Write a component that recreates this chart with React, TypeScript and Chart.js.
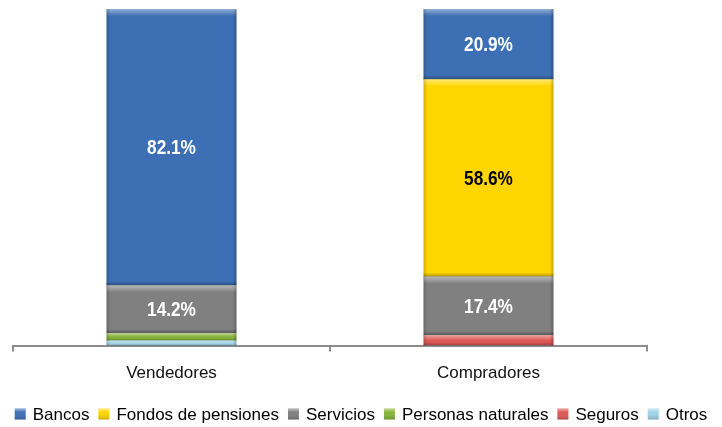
import React, { useEffect, useRef } from "react";
import { Chart, registerables } from "chart.js";

Chart.register(...registerables);

const categories = ["Vendedores", "Compradores"];
const bancos = [82.1, 20.9];
const fondos = [0, 58.6];
const servicios = [14.2, 17.4];
const personas = [2.2, 0];
const seguros = [0, 3.1];
const otros = [1.5, 0];

const FONT = "'Liberation Sans', Arial, sans-serif";

const bevelPlugin = {
  id: "bevel",
  afterDatasetsDraw(chart: any) {
    const ctx = chart.ctx;
    chart.data.datasets.forEach((ds: any, i: number) => {
      const meta = chart.getDatasetMeta(i);
      meta.data.forEach((bar: any, j: number) => {
        const v = ds.data[j];
        if (!v) return;
        const { x, y, base, width } = bar.getProps(["x", "y", "base", "width"], true);
        const left = x - width / 2;
        const top = Math.min(y, base);
        const h = Math.abs(base - y);
        ctx.save();
        const band = Math.min(7, h / 2);
        let g = ctx.createLinearGradient(0, top, 0, top + band);
        g.addColorStop(0, "rgba(255,255,255,0.45)");
        g.addColorStop(1, "rgba(255,255,255,0)");
        ctx.fillStyle = g;
        ctx.fillRect(left, top, width, band);
        const bb = Math.min(4, h / 3);
        g = ctx.createLinearGradient(0, top + h - bb, 0, top + h);
        g.addColorStop(0, "rgba(0,0,0,0)");
        g.addColorStop(1, "rgba(0,0,0,0.3)");
        ctx.fillStyle = g;
        ctx.fillRect(left, top + h - bb, width, bb);
        g = ctx.createLinearGradient(left, 0, left + 4, 0);
        g.addColorStop(0, "rgba(0,0,0,0.18)");
        g.addColorStop(1, "rgba(0,0,0,0)");
        ctx.fillStyle = g;
        ctx.fillRect(left, top, 4, h);
        g = ctx.createLinearGradient(left + width - 4, 0, left + width, 0);
        g.addColorStop(0, "rgba(0,0,0,0)");
        g.addColorStop(1, "rgba(0,0,0,0.22)");
        ctx.fillStyle = g;
        ctx.fillRect(left + width - 4, top, 4, h);
        ctx.restore();
      });
    });
  },
};

const labelPlugin = {
  id: "valueLabels",
  afterDatasetsDraw(chart: any) {
    const ctx = chart.ctx;
    chart.data.datasets.forEach((ds: any, i: number) => {
      const meta = chart.getDatasetMeta(i);
      meta.data.forEach((bar: any, j: number) => {
        const v = ds.data[j];
        if (!v || v < 5) return;
        const { x, y, base } = bar.getProps(["x", "y", "base"], true);
        ctx.save();
        ctx.translate(x, (y + base) / 2 + 1);
        ctx.scale(0.82, 1);
        ctx.font = `bold 21px ${FONT}`;
        ctx.fillStyle = ds.labelColor || "#ffffff";
        ctx.textAlign = "center";
        ctx.textBaseline = "middle";
        ctx.fillText(v.toFixed(1) + "%", 0, 0);
        ctx.restore();
      });
    });
  },
};

const legendPlugin = {
  id: "customLegend",
  afterDraw(chart: any) {
    const ctx = chart.ctx;
    const box = 11;
    const gap = 7;
    const sep = 9;
    const items = [...chart.data.datasets].reverse();
    ctx.save();
    ctx.font = `17px ${FONT}`;
    ctx.textBaseline = "middle";
    const widths = items.map((d: any) => ctx.measureText(d.label).width);
    const total = widths.reduce((a: number, w: number) => a + box + gap + w, 0) + sep * (items.length - 1);
    let x = (chart.width - total) / 2;
    const cy = 414;
    items.forEach((d: any, k: number) => {
      const g = ctx.createLinearGradient(0, cy - box / 2, 0, cy + box / 2);
      g.addColorStop(0, "rgba(255,255,255,0.5)");
      g.addColorStop(0.35, "rgba(255,255,255,0)");
      g.addColorStop(1, "rgba(0,0,0,0.2)");
      ctx.fillStyle = d.backgroundColor;
      ctx.fillRect(x, cy - box / 2, box, box);
      ctx.fillStyle = g;
      ctx.fillRect(x, cy - box / 2, box, box);
      x += box + gap;
      ctx.fillStyle = "#000";
      ctx.fillText(d.label, x, cy + 1);
      x += widths[k] + sep;
    });
    ctx.restore();
  },
};

export default function App() {
  const ref = useRef<HTMLCanvasElement | null>(null);
  useEffect(() => {
    document.body.style.margin = "0";
    if (!ref.current) return;
    const mk = (label: string, data: number[], color: string, labelColor = "#ffffff") => ({
      label,
      data,
      backgroundColor: color,
      borderWidth: 0,
      labelColor,
      barPercentage: 0.41,
      categoryPercentage: 1,
    });
    const chart = new Chart(ref.current, {
      type: "bar",
      data: {
        labels: categories,
        datasets: [
          mk("Otros", otros, "#9fd3e6"),
          mk("Seguros", seguros, "#dc5855"),
          mk("Personas naturales", personas, "#86b43a"),
          mk("Servicios", servicios, "#808080"),
          mk("Fondos de pensiones", fondos, "#ffd500", "#000000"),
          mk("Bancos", bancos, "#3d6fb4"),
        ] as any,
      },
      options: {
        animation: false,
        responsive: false,
        maintainAspectRatio: false,
        layout: { padding: { left: 13, right: 75, top: 9, bottom: 31 } },
        plugins: {
          legend: { display: false },
          tooltip: { enabled: false },
        },
        scales: {
          x: {
            stacked: true,
            offset: true,
            grid: {
              display: true,
              offset: true,
              drawOnChartArea: false,
              drawTicks: true,
              tickLength: 6,
              color: "#8c8c8c",
              lineWidth: 2,
            },
            border: { display: true, color: "#8c8c8c", width: 2 },
            ticks: {
              color: "#111",
              font: { family: FONT, size: 17 },
              padding: 12,
            },
          },
          y: {
            stacked: true,
            display: false,
            min: 0,
            max: 100,
          },
        },
      },
      plugins: [bevelPlugin, labelPlugin, legendPlugin],
    });
    return () => chart.destroy();
  }, []);
  return (
    <div style={{ width: 722, height: 427, background: "#fff" }}>
      <canvas ref={ref} width={722} height={427} />
    </div>
  );
}
